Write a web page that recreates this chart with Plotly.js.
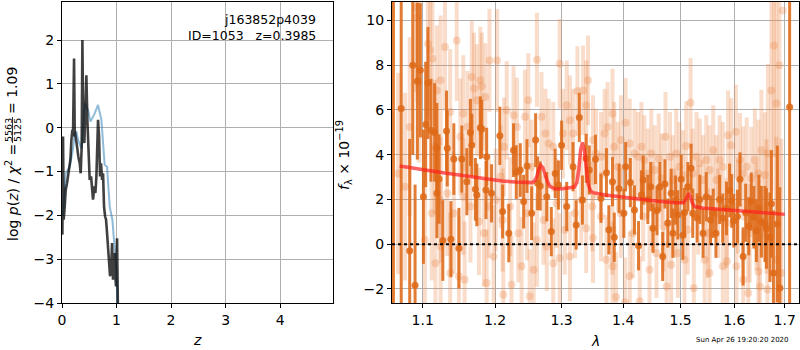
<!DOCTYPE html>
<html>
<head>
<meta charset="utf-8">
<script src="https://cdn.plot.ly/plotly-3.0.1.min.js"></script>
<style>html,body{margin:0;padding:0;background:#fff}#chart{width:800px;height:350px}</style>
</head>
<body>
<div id="chart"></div>
<script>
// ---------- Left panel: log p(z) ----------
const zPrior = [0.018, 0.068, 0.141, 0.20, 0.233, 0.264, 0.30, 0.356, 0.417, 0.477, 0.521, 0.59, 0.661, 0.722, 0.783, 0.826, 0.875, 0.924, 0.967, 0.998, 1.016, 1.03];
const lnPrior = [-2.02, -1.04, -0.89, -0.50, -0.13, -0.09, -0.30, -0.47, 0.56, 0.41, 0.14, 0.30, 0.52, 0.18, -0.85, -0.89, -1.80, -2.10, -2.78, -3.31, -4.0, -4.6];

const zGrid = [0.000, 0.007, 0.019, 0.031, 0.050, 0.068, 0.092, 0.111, 0.129, 0.154, 0.172, 0.190, 0.202, 0.221, 0.233, 0.251, 0.276, 0.300, 0.325, 0.343, 0.361, 0.374, 0.392, 0.410, 0.429, 0.447, 0.465, 0.484, 0.508, 0.533, 0.551, 0.569, 0.594, 0.612, 0.631, 0.649, 0.661, 0.680, 0.698, 0.716, 0.735, 0.753, 0.771, 0.790, 0.808, 0.826, 0.845, 0.863, 0.881, 0.900, 0.918, 0.936, 0.955, 0.973, 0.991, 1.010, 1.022, 1.030];
const lnPz = [-2.0, -2.44, -0.20, -2.10, -1.80, -1.42, -1.27, -1.11, -0.89, -0.73, -0.28, -0.05, -0.20, 1.58, -0.05, -0.28, -0.43, -0.66, -0.81, -1.04, -0.43, 2.00, -0.20, -0.35, 0.25, 1.20, 0.18, -0.58, -1.19, -1.11, -1.49, -1.64, -1.34, -1.49, -1.11, -0.28, 0.18, -0.20, -1.11, -0.81, -1.19, -1.04, -1.80, -2.02, -2.10, -2.40, -2.78, -3.24, -3.39, -3.24, -2.63, -3.47, -2.86, -3.31, -3.62, -2.52, -4.0, -4.6];

// ---------- Right panel: spectrum ----------
// grism A (dark points)
const lamA = [1.062, 1.072, 1.083, 1.087, 1.090, 1.093, 1.097, 1.101, 1.104, 1.107, 1.111, 1.116, 1.119, 1.119, 1.122, 1.127, 1.132, 1.133, 1.138, 1.142, 1.149, 1.153, 1.160, 1.165, 1.167, 1.172, 1.174, 1.179, 1.181, 1.187, 1.188, 1.195, 1.207, 1.211, 1.220, 1.227, 1.231, 1.237, 1.242, 1.247, 1.254, 1.260, 1.263, 1.267, 1.277, 1.284, 1.290, 1.295, 1.300, 1.308, 1.318, 1.323, 1.328, 1.333, 1.339, 1.344, 1.354, 1.363, 1.372, 1.376, 1.382, 1.385, 1.393, 1.401, 1.404, 1.412, 1.419, 1.426, 1.431, 1.434, 1.442, 1.447, 1.451, 1.458, 1.463, 1.468, 1.472, 1.477, 1.483, 1.486, 1.491, 1.495, 1.501, 1.504, 1.507, 1.513, 1.519, 1.522, 1.530, 1.535, 1.541, 1.547, 1.555, 1.560, 1.565, 1.572, 1.578, 1.585, 1.591, 1.595, 1.599, 1.606, 1.611, 1.617, 1.622, 1.628, 1.633, 1.638, 1.643, 1.648, 1.653, 1.660, 1.663, 1.670, 1.673, 1.677, 1.685, 1.690, 1.710];
const fluxA = [11.5, 6.06, -0.30, 7.99, -1.84, 7.28, 7.77, 2.12, 5.35, 7.20, 5.09, 4.99, 4.31, 2.27, 2.91, 0.16, 5.06, 4.28, 0.22, 3.80, -0.18, 3.80, 2.79, 4.99, 4.42, 2.45, 2.20, 5.20, 5.15, 2.42, 3.90, 2.27, 4.84, 1.46, 0.49, 4.20, 3.22, 3.31, 1.90, 3.49, 1.38, 4.65, 2.72, 2.60, 2.12, 0.56, 3.16, 2.64, 4.42, 1.68, 3.46, 0.86, 5.66, 1.97, 3.83, 3.31, 3.79, 2.05, 3.19, 0.64, 2.79, 0.31, 2.49, 1.38, 3.46, 2.75, 1.53, -0.07, 2.20, 2.87, 2.00, 2.57, 0.71, 1.50, 2.57, -0.55, 2.69, 0.94, 2.27, 0.49, 1.97, 1.31, 2.90, 0.40, 1.41, 2.57, 3.39, 1.38, 1.17, 2.00, 0.49, 2.12, 1.08, 1.38, 0.49, 2.00, 1.16, 1.60, 2.40, 1.93, 1.05, 1.23, 2.90, -0.55, 1.40, 0.80, 1.90, 1.20, 0.60, 1.60, 1.00, 0.90, 0.70, 0.31, 1.80, -1.29, 0.90, -1.96, 6.13];
const errA = [15, 9, 5, 4, 4.5, 3.5, 3, 3, 2.8, 2.5, 2.3, 2.2, 2, 2, 2, 1.8, 1.8, 1.7, 1.7, 1.6, 1.8, 1.5, 1.5, 1.5, 1.4, 1.4, 1.4, 1.4, 1.3, 1.3, 1.3, 1.3, 1.3, 1.2, 1.3, 1.2, 1.2, 1.2, 1.2, 1.2, 1.2, 1.2, 1.2, 1.1, 1.1, 1.1, 1.1, 1.1, 1.1, 1.1, 1.1, 1.1, 1.1, 1.1, 1.1, 1.1, 1.1, 1.1, 1.1, 1.1, 1.1, 1.1, 1.1, 1.1, 1.1, 1.1, 1.1, 1.1, 1.1, 1.1, 1.1, 1.1, 1.1, 1.1, 1.1, 1.1, 1.1, 1.1, 1.1, 1.1, 1.1, 1.1, 1.1, 1.1, 1.1, 1.1, 1.1, 1.1, 1.1, 1.1, 1.1, 1.1, 1.1, 1.1, 1.1, 1.1, 1.1, 1.2, 1.2, 1.2, 1.2, 1.2, 1.2, 1.3, 1.3, 1.3, 1.3, 1.4, 1.4, 1.5, 1.6, 1.7, 1.8, 2.0, 2.4, 2.8, 3.5, 4.5, 12];

// grism B (light points)
const lamB = [1.068, 1.077, 1.083, 1.091, 1.093, 1.095, 1.103, 1.107, 1.110, 1.112, 1.113, 1.116, 1.117, 1.119, 1.124, 1.124, 1.124, 1.130, 1.133, 1.137, 1.137, 1.142, 1.146, 1.149, 1.151, 1.155, 1.155, 1.157, 1.161, 1.165, 1.167, 1.170, 1.174, 1.177, 1.179, 1.181, 1.184, 1.186, 1.188, 1.191, 1.192, 1.198, 1.201, 1.203, 1.208, 1.211, 1.212, 1.213, 1.217, 1.222, 1.224, 1.227, 1.232, 1.234, 1.239, 1.244, 1.247, 1.249, 1.251, 1.254, 1.257, 1.262, 1.262, 1.269, 1.272, 1.275, 1.277, 1.280, 1.287, 1.287, 1.292, 1.297, 1.297, 1.302, 1.305, 1.308, 1.313, 1.313, 1.318, 1.321, 1.325, 1.331, 1.334, 1.339, 1.339, 1.342, 1.349, 1.350, 1.350, 1.355, 1.363, 1.363, 1.369, 1.372, 1.374, 1.382, 1.382, 1.382, 1.385, 1.388, 1.391, 1.396, 1.396, 1.403, 1.404, 1.411, 1.411, 1.416, 1.419, 1.425, 1.428, 1.431, 1.434, 1.436, 1.442, 1.445, 1.448, 1.451, 1.454, 1.457, 1.461, 1.466, 1.469, 1.473, 1.475, 1.481, 1.483, 1.486, 1.489, 1.492, 1.495, 1.498, 1.504, 1.507, 1.510, 1.513, 1.518, 1.522, 1.524, 1.529, 1.532, 1.535, 1.541, 1.544, 1.547, 1.550, 1.553, 1.553, 1.560, 1.566, 1.569, 1.572, 1.578, 1.578, 1.585, 1.586, 1.588, 1.594, 1.603, 1.604, 1.607, 1.611, 1.617, 1.617, 1.624, 1.627, 1.630, 1.633, 1.640, 1.643, 1.647, 1.647, 1.650, 1.653, 1.660, 1.663, 1.665, 1.666, 1.673, 1.678, 1.683, 1.683, 1.689, 1.693, 1.696];
const fluxB = [3.16, 2.57, 5.24, 10.59, 10.14, 7.25, 0.19, 8.95, 8.66, 1.38, 8.28, 4.35, -0.85, 6.87, 7.32, -0.10, 1.97, 8.81, 2.27, 5.91, -1.29, 1.38, 9.10, -1.44, 4.80, 5.84, 2.12, -1.59, 5.24, 1.68, 7.47, 6.95, 6.43, 1.01, 7.32, 7.05, 0.49, 6.58, -1.74, 1.68, 8.21, -0.55, 1.97, 8.21, 3.01, 1.08, -2.26, 4.35, 5.98, 1.68, -1.81, 5.76, 5.24, 0.49, -0.99, 5.69, 1.38, 6.43, -2.33, 3.46, -1.14, 8.24, 0.19, 5.69, 1.08, 4.94, -0.10, 4.50, 4.35, -0.85, 1.83, 8.06, -0.62, 4.94, 0.64, 6.21, 5.54, -0.55, 4.94, 1.38, 6.84, 1.97, 6.87, 6.21, 0.71, 7.32, 1.68, 4.65, 0.27, 4.05, 3.90, 1.23, 4.94, -0.70, 5.24, 5.84, -0.99, 0.64, 4.35, -2.36, 3.46, 4.65, 1.38, -2.60, 5.42, -1.44, 4.50, 0.49, 4.05, 3.90, -2.55, 4.35, 1.23, 3.76, 3.16, -1.14, 4.05, 1.68, 3.31, -0.40, 3.83, 2.94, 0.79, 4.80, -1.89, 3.90, -0.92, 2.87, 1.38, 4.05, -0.40, 3.46, 3.09, -0.70, 4.38, 0.64, 6.32, 3.16, -1.96, 3.90, 1.53, 3.61, 2.87, -0.70, 3.76, 0.49, 3.31, -1.29, 4.20, 2.87, 1.38, 3.76, 3.46, -0.99, 0.94, -0.77, 4.87, 4.42, 5.02, -0.99, 1.68, 3.76, 3.16, -1.59, 3.46, -2.18, 0.49, 2.94, 3.76, 1.23, 3.16, -1.22, -1.89, 4.20, 3.09, 1.68, -2.03, 4.05, 6.87, 8.88, 6.28, -0.70, 7.99, -1.29, 10.44];
const errB = [4.5, 4.2, 4.0, 3.8, 3.8, 3.6, 3.2, 3.2, 3.1, 3.0, 3.0, 3.0, 3.0, 2.9, 2.9, 2.9, 2.8, 2.8, 2.8, 2.8, 2.7, 2.7, 2.7, 2.7, 2.6, 2.6, 2.6, 2.6, 2.5, 2.5, 2.5, 2.5, 2.5, 2.4, 2.4, 2.4, 2.4, 2.4, 2.4, 2.3, 2.3, 2.3, 2.3, 2.3, 2.3, 2.3, 2.3, 2.2, 2.2, 2.2, 2.2, 2.2, 2.2, 2.2, 2.2, 2.1, 2.1, 2.1, 2.1, 2.1, 2.1, 2.1, 2.1, 2.0, 2.0, 2.0, 2.0, 2.0, 2.0, 2.0, 2.0, 2.0, 2.0, 2.0, 2.0, 2.0, 2.0, 2.0, 2.0, 2.0, 2.0, 2.0, 2.0, 2.0, 2.0, 2.0, 2.0, 2.0, 2.0, 2.0, 2.0, 2.0, 2.0, 2.0, 2.0, 2.0, 2.0, 2.0, 2.0, 2.0, 2.0, 2.0, 2.0, 2.0, 2.0, 2.0, 2.0, 2.0, 2.0, 2.0, 2.0, 2.0, 2.0, 2.0, 2.0, 2.0, 2.0, 2.0, 2.0, 2.0, 2.0, 2.0, 2.0, 2.0, 2.0, 2.0, 2.0, 2.0, 2.0, 2.0, 2.0, 2.0, 2.0, 2.0, 2.0, 2.0, 2.0, 2.0, 2.0, 2.0, 2.0, 2.0, 2.0, 2.0, 2.0, 2.0, 2.0, 2.0, 2.0, 2.0, 2.0, 2.0, 2.0, 2.0, 2.0, 2.0, 2.0, 2.1, 2.1, 2.1, 2.1, 2.1, 2.1, 2.2, 2.2, 2.2, 2.2, 2.3, 2.3, 2.4, 2.4, 2.5, 2.6, 2.7, 2.8, 3.0, 3.4, 4.0, 4.5, 5.0, 5.0, 5.5, 5.5, 6.0];

// best-fit model
const lamModel = [1.07, 1.09, 1.11, 1.13, 1.15, 1.17, 1.19, 1.21, 1.23, 1.25, 1.255, 1.259, 1.262, 1.265, 1.268, 1.271, 1.274, 1.278, 1.282, 1.287, 1.29, 1.30, 1.31, 1.32, 1.324, 1.327, 1.330, 1.333, 1.336, 1.339, 1.342, 1.346, 1.35, 1.37, 1.40, 1.43, 1.46, 1.49, 1.505, 1.509, 1.512, 1.515, 1.518, 1.521, 1.525, 1.54, 1.57, 1.60, 1.63, 1.66, 1.70];
const fluxModel = [3.49, 3.40, 3.28, 3.18, 3.08, 2.98, 2.88, 2.82, 2.78, 2.74, 2.75, 2.85, 3.05, 3.35, 3.52, 3.42, 3.12, 2.80, 2.58, 2.48, 2.46, 2.47, 2.50, 2.55, 2.75, 3.30, 4.20, 4.55, 4.20, 3.40, 2.70, 2.38, 2.30, 2.20, 2.10, 2.00, 1.92, 1.85, 1.85, 1.98, 2.18, 2.27, 2.10, 1.85, 1.68, 1.62, 1.56, 1.50, 1.44, 1.38, 1.33];

const zTicks = [0, 1, 2, 3, 4];
const lnTicks = [-4, -3, -2, -1, 0, 1, 2];
const lamTicks = [1.1, 1.2, 1.3, 1.4, 1.5, 1.6, 1.7];
const lamTickText = ['1.1', '1.2', '1.3', '1.4', '1.5', '1.6', '1.7'];
const fTicks = [-2, 0, 2, 4, 6, 8, 10];

const FONT = 'DejaVu Sans, sans-serif';
const ORANGE = 'rgba(222,106,24,0.88)';
const ORANGE_L = 'rgba(232,128,60,0.28)';

const traces = [
  {x: zPrior, y: lnPrior, xaxis: 'x', yaxis: 'y', mode: 'lines', line: {color: 'rgba(31,119,180,0.5)', width: 2}, hoverinfo: 'skip'},
  {x: zGrid, y: lnPz, xaxis: 'x', yaxis: 'y', mode: 'lines', line: {color: 'rgba(0,0,0,0.75)', width: 2.6}, hoverinfo: 'skip'},
  {x: lamB, y: fluxB, xaxis: 'x2', yaxis: 'y2', mode: 'markers', marker: {color: ORANGE_L, size: 8},
   error_y: {type: 'data', array: errB, visible: true, color: ORANGE_L, thickness: 4, width: 0}, hoverinfo: 'skip'},
  {x: lamA, y: fluxA, xaxis: 'x2', yaxis: 'y2', mode: 'markers', marker: {color: ORANGE, size: 7},
   error_y: {type: 'data', array: errA, visible: true, color: ORANGE, thickness: 3, width: 0}, hoverinfo: 'skip'},
  {x: lamModel, y: fluxModel, xaxis: 'x2', yaxis: 'y2', mode: 'lines', line: {color: 'rgba(255,30,30,0.7)', width: 3.5}, hoverinfo: 'skip'}
];

const axBase = {
  showgrid: true, gridcolor: '#b0b0b0', gridwidth: 1, zeroline: false,
  showline: true, linecolor: '#000', linewidth: 1, mirror: true,
  ticks: 'outside', ticklen: 4, tickcolor: '#000', tickwidth: 1,
  tickfont: {family: FONT, size: 14, color: '#000'}
};

function px2x(px) { return (px - 62) / 737; }
function py2y(py) { return (303 - py) / 301; }

const ann = (text, px, py, size, extra) => Object.assign({
  text: text, xref: 'paper', yref: 'paper', x: px2x(px), y: py2y(py),
  xanchor: 'center', yanchor: 'middle', showarrow: false,
  font: {family: FONT, size: size, color: '#000'}
}, extra || {});

const layout = {
  width: 800, height: 350,
  margin: {l: 62, r: 1, t: 2, b: 47},
  paper_bgcolor: '#fff', plot_bgcolor: '#fff',
  showlegend: false,
  xaxis: Object.assign({}, axBase, {domain: [0, px2x(333)], range: [0, 4.97], tickvals: zTicks, anchor: 'y'}),
  yaxis: Object.assign({}, axBase, {domain: [0, 1], range: [-4, 2.87], tickvals: lnTicks, anchor: 'x'}),
  xaxis2: Object.assign({}, axBase, {type: 'log', domain: [px2x(392), 1], range: [Math.log10(1.0602), Math.log10(1.7294)], tickvals: lamTicks, ticktext: lamTickText, anchor: 'y2'}),
  yaxis2: Object.assign({}, axBase, {domain: [0, 1], range: [-2.63, 10.82], tickvals: fTicks, anchor: 'x2'}),
  shapes: [
    {type: 'line', xref: 'x2 domain', yref: 'y2', x0: 0, x1: 1, y0: 0, y1: 0, line: {color: '#000', width: 2, dash: 'dot'}, layer: 'above'},
    {type: 'line', xref: 'paper', yref: 'paper', x0: px2x(12.5), x1: px2x(12.5), y0: py2y(117), y1: py2y(143), line: {color: '#000', width: 0.8}}
  ],
  annotations: [
    ann('j163852p4039', 318, 20, 12.5, {xanchor: 'right'}),
    ann('ID=1053\u00a0\u00a0\u00a0z=0.3985', 318, 35, 12.5, {xanchor: 'right'}),
    ann('<i>z</i>', 197, 340, 14),
    ann('<i>λ</i>', 595, 341, 14),
    ann('<i>f</i><sub>λ</sub> × 10<sup>−19</sup>', 344, 155, 14, {textangle: -90}),
    ann('Sun Apr 26 19:20:20 2020', 742, 340, 7),
    ann('log <i>p</i>(<i>z</i>) / <i>χ</i><sup>2</sup> =', 12, 193, 14, {textangle: -90}),
    ann('5563', 8, 130, 9.5, {textangle: -90}),
    ann('5125', 17, 130, 9.5, {textangle: -90}),
    ann('= 1.09', 12, 91, 14, {textangle: -90})
  ]
};

Plotly.newPlot('chart', traces, layout, {staticPlot: true, displayModeBar: false});
</script>
</body>
</html>
